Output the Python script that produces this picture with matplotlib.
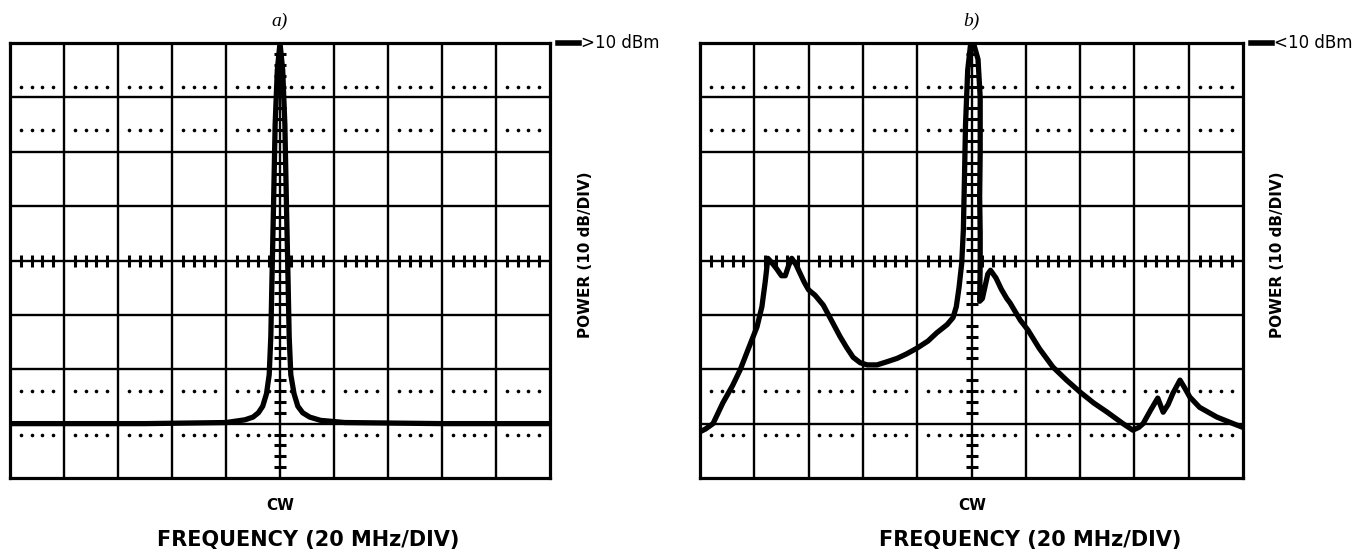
import numpy as np
import matplotlib
matplotlib.use('Agg')
import matplotlib.pyplot as plt

# positions are in screen divisions: x 0..10 (20 MHz/div, CW at 5), y 0..8 (10 dB/div)
a_freq = [0, 2.5, 4.0, 4.35, 4.5, 4.6, 4.68, 4.75, 4.8, 4.83, 4.85, 4.88, 4.91,
          4.95, 5.0, 5.05, 5.09, 5.12, 5.15, 5.17, 5.2, 5.26, 5.33, 5.42, 5.55,
          5.75, 6.2, 8, 10]
a_power = [1.0, 1.0, 1.02, 1.07, 1.12, 1.2, 1.32, 1.55, 1.9, 2.6, 3.6, 5.0, 6.5,
           7.5, 8.0, 7.5, 6.5, 5.0, 3.6, 2.6, 1.9, 1.55, 1.32, 1.2, 1.12,
           1.06, 1.02, 1.0, 1.0]

b_freq = [0, 0.1, 0.24, 0.42, 0.6, 0.74, 0.9, 1.05, 1.14, 1.2, 1.25, 1.33, 1.41,
          1.5, 1.57, 1.63, 1.69, 1.77, 1.84, 1.92, 2.0, 2.12, 2.27, 2.42, 2.58,
          2.7, 2.82, 2.95, 3.08, 3.26, 3.45, 3.63, 3.8, 4.0, 4.2, 4.36, 4.55,
          4.66, 4.72, 4.77, 4.82, 4.85, 4.87, 4.89, 4.93, 4.98, 5.05, 5.12,
          5.16, 5.16, 5.15, 5.16, 5.16, 5.15, 5.2, 5.3, 5.35, 5.45, 5.55, 5.65,
          5.71, 5.9, 6.04, 6.25, 6.5, 6.75, 7.0, 7.25, 7.5, 7.79, 7.97, 8.08,
          8.16, 8.3, 8.43, 8.53, 8.62, 8.71, 8.84, 8.93, 9.02, 9.2, 9.52, 9.82,
          10.0]
b_power = [0.85, 0.9, 1.0, 1.38, 1.7, 1.99, 2.4, 2.78, 3.15, 3.6, 4.04, 3.95, 3.85,
           3.72, 3.72, 3.9, 4.04, 3.92, 3.77, 3.6, 3.46, 3.36, 3.18, 2.9, 2.6,
           2.4, 2.22, 2.12, 2.08, 2.08, 2.14, 2.2, 2.28, 2.39, 2.52, 2.67, 2.82,
           2.95, 3.15, 3.5, 3.95, 4.56, 5.5, 6.5, 7.5, 7.95, 7.95, 7.7,
           7.0, 6.0, 5.17, 4.5, 3.95, 3.25, 3.3, 3.75, 3.82, 3.68, 3.47, 3.3,
           3.22, 2.9, 2.72, 2.38, 2.04, 1.8, 1.58, 1.38, 1.21, 1.0, 0.88, 0.93,
           1.0, 1.25, 1.47, 1.21, 1.35, 1.56, 1.8, 1.65, 1.49, 1.3, 1.12, 1.0,
           0.93]

panel_labels = ['a)', 'b)']
ref_labels = ['>10 dBm', '<10 dBm']
dotted_rows = [0.8, 1.6, 6.4, 7.2]

W, H = 1354, 552
fig = plt.figure(figsize=(W / 100, H / 100), dpi=100)


def screen(left, right, top=43, bottom=478):
    ax = fig.add_axes([left / W, 1 - bottom / H, (right - left) / W, (bottom - top) / H])
    ax.set_xlim(0, 10)
    ax.set_ylim(0, 8)
    ax.set_xticks([])
    ax.set_yticks([])
    for s in ax.spines.values():
        s.set_linewidth(2.3)
    for x in range(1, 10):
        ax.axvline(x, color='k', lw=1.7)
    for y in range(1, 8):
        ax.axhline(y, color='k', lw=1.7)
    # dotted graticule rows
    dx = np.array([c + f for c in range(10) for f in (0.2, 0.4, 0.6, 0.8)])
    for y in dotted_rows:
        ax.plot(dx, np.full(dx.size, y), 'o', color='k', ms=2.6, mew=0)
    # minor ticks on centre lines
    ax.plot(dx, np.full(dx.size, 4), '|', color='k', ms=8, mew=2.2)
    ty = np.array([c + f for c in range(8) for f in (0.2, 0.4, 0.6, 0.8)])
    ax.plot(np.full(ty.size, 5), ty, '_', color='k', ms=9, mew=2.2)
    return ax


ax_a = screen(10, 550)
ax_a.plot(a_freq, a_power, color='k', lw=3.8, solid_joinstyle='round')

ax_b = screen(700, 1243)
ax_b.plot(b_freq, b_power, color='k', lw=3.8, solid_joinstyle='round')

for ax, plab, rlab, xr in [(ax_a, panel_labels[0], ref_labels[0], 550),
                           (ax_b, panel_labels[1], ref_labels[1], 1243)]:
    ax.text(0.5, 1.05, plab, transform=ax.transAxes, ha='center', va='center',
            fontsize=14, style='italic', family=['Liberation Serif', 'DejaVu Serif'])
    # reference level marker
    fig.add_artist(plt.Line2D([(xr + 8) / W, (xr + 29) / W], [1 - 43 / H, 1 - 43 / H],
                              color='k', lw=4))
    fig.text((xr + 31) / W, 1 - 43 / H, rlab, ha='left', va='center', fontsize=12)
    fig.text((xr + 35) / W, 1 - 255 / H, 'POWER (10 dB/DIV)', rotation=90,
             ha='center', va='center', fontsize=11, fontweight='bold')

for xc in (280, 972):
    fig.text(xc / W, 1 - 505 / H, 'CW', ha='center', va='center', fontsize=11,
             fontweight='bold')
fig.text(308 / W, 1 - 540 / H, 'FREQUENCY (20 MHz/DIV)', ha='center', va='center',
         fontsize=15, fontweight='bold')
fig.text(1030 / W, 1 - 540 / H, 'FREQUENCY (20 MHz/DIV)', ha='center', va='center',
         fontsize=15, fontweight='bold')

fig.savefig('out.png', dpi=100)
